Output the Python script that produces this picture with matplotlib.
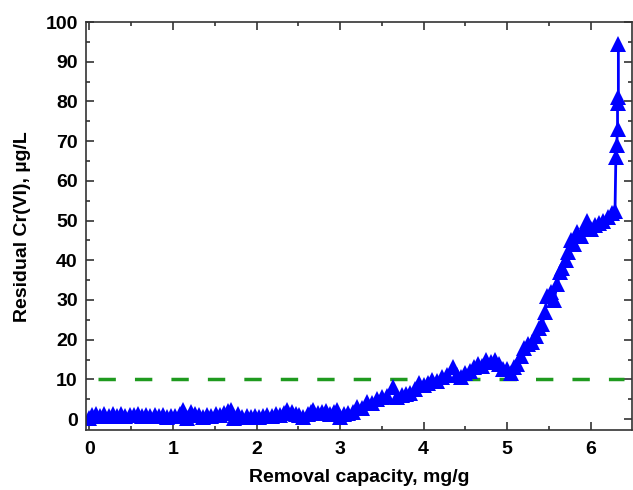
import matplotlib
matplotlib.use('Agg')
import matplotlib.pyplot as plt
from matplotlib.ticker import MultipleLocator

# removal capacity (mg/g) vs residual Cr(VI) (ug/L)
capacity = [0.00, 0.03, 0.08, 0.13, 0.18, 0.23, 0.28, 0.33, 0.38, 0.43,
            0.48, 0.53, 0.58, 0.63, 0.68, 0.73, 0.78, 0.83, 0.88, 0.93,
            0.98, 1.03, 1.08, 1.12, 1.17, 1.22, 1.26, 1.31, 1.36, 1.41,
            1.46, 1.51, 1.56, 1.61, 1.66, 1.70, 1.73, 1.78, 1.83, 1.88,
            1.93, 1.98, 2.03, 2.08, 2.13, 2.18, 2.23, 2.28, 2.33, 2.37,
            2.42, 2.47, 2.51, 2.56, 2.61, 2.65, 2.68, 2.73, 2.78, 2.83,
            2.88, 2.93, 2.96, 3.00, 3.05, 3.10, 3.15, 3.20, 3.26, 3.32,
            3.38, 3.44, 3.50, 3.56, 3.63, 3.68, 3.74, 3.79, 3.84, 3.90,
            3.95, 4.00, 4.05, 4.10, 4.16, 4.22, 4.28, 4.35, 4.40, 4.45,
            4.50, 4.55, 4.60, 4.65, 4.70, 4.75, 4.80, 4.85, 4.90, 4.95,
            5.00, 5.05, 5.08, 5.12, 5.16, 5.20, 5.25, 5.30, 5.35, 5.38,
            5.42, 5.45, 5.48, 5.52, 5.56, 5.60, 5.63, 5.66, 5.70, 5.73,
            5.76, 5.80, 5.84, 5.88, 5.92, 5.96, 6.00, 6.05, 6.10, 6.15,
            6.20, 6.25, 6.29, 6.30, 6.31, 6.32, 6.32, 6.33, 6.33]
residual = [0.3, 1.0, 1.2, 0.9, 1.2, 0.8, 1.2, 0.9, 1.2, 0.8,
            1.1, 1.0, 1.2, 0.8, 1.1, 0.8, 1.0, 0.7, 1.0, 0.6,
            0.9, 0.8, 1.3, 2.2, 0.2, 1.8, 1.2, 1.0, 0.6, 1.0,
            0.7, 1.2, 1.0, 1.5, 2.0, 2.2, 0.3, 1.2, 0.6, 0.8,
            0.5, 0.8, 0.6, 0.9, 1.0, 0.8, 1.2, 1.0, 1.5, 2.3,
            1.8, 1.4, 1.0, 0.5, 1.2, 1.8, 2.3, 1.5, 1.8, 2.0,
            1.4, 1.8, 2.3, 0.5, 1.2, 1.5, 1.8, 3.0, 2.8, 4.3,
            4.0, 5.0, 5.5, 5.8, 8.0, 5.5, 6.0, 6.2, 6.5, 7.5,
            9.0, 8.5, 9.0, 9.8, 9.5, 10.5, 11.0, 13.0, 11.0, 10.5,
            11.5, 12.0, 13.0, 14.0, 13.5, 15.0, 14.5, 15.0, 14.0, 12.5,
            12.5, 11.5, 13.0, 14.0, 16.0, 18.0, 19.0, 19.5, 21.0, 23.0,
            24.0, 27.0, 31.0, 32.0, 30.0, 34.0, 37.0, 38.0, 40.0, 42.0,
            45.0, 44.0, 47.0, 46.0, 48.0, 50.0, 48.0, 49.0, 49.5, 50.0,
            51.0, 52.0, 52.5, 66.0, 69.0, 73.0, 79.5, 81.0, 94.5]

limit_x = [0.1, 6.4]
limit_y = [10, 10]

plt.rcParams['font.family'] = ['Liberation Sans', 'DejaVu Sans']
plt.rcParams['font.weight'] = 'bold'

fig = plt.figure(figsize=(6.33, 4.90), dpi=100)
ax = fig.add_axes([0.136, 0.122, 0.862, 0.833])

ax.plot(limit_x, limit_y, color='#1f9a1f', linewidth=2.5, dashes=(5, 5.5))
ax.plot(capacity, residual, color='#0000ff', linewidth=2, marker='^',
        markersize=11, markeredgewidth=0)

ax.set_xlim(-0.04, 6.49)
ax.set_ylim(-2.8, 100)
ax.xaxis.set_major_locator(MultipleLocator(1))
ax.xaxis.set_minor_locator(MultipleLocator(0.5))
ax.yaxis.set_major_locator(MultipleLocator(10))
ax.yaxis.set_minor_locator(MultipleLocator(5))
ax.tick_params(which='both', direction='in', top=True, right=True,
               labelsize=14, width=1.2, color='#333333')
ax.tick_params(which='major', length=6)
ax.tick_params(which='minor', length=3)
ax.tick_params(axis='x', pad=8)
ax.tick_params(axis='y', pad=6)
for s in ax.spines.values():
    s.set_color('#333333')
    s.set_linewidth(1.2)

ax.set_xlabel('Removal capacity, mg/g', fontsize=14, fontweight='bold', labelpad=8)
ax.set_ylabel('Residual Cr(VI), µg/L', fontsize=14, fontweight='bold', labelpad=10)

plt.savefig('out.png')
